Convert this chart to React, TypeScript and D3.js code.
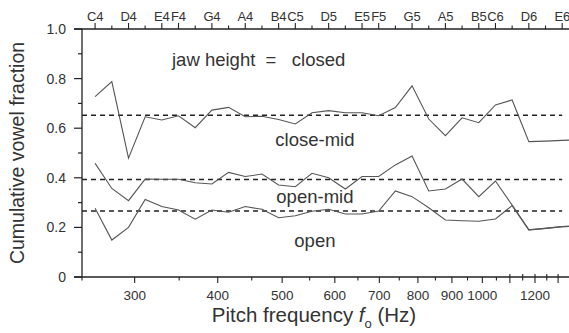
import React from 'react';
import * as d3 from 'd3';

// semitone pitches C4..F6 (Hz)
const pitchHz = [
  261.6, 277.2, 293.7, 311.1, 329.6, 349.2, 370.0, 392.0, 415.3, 440.0,
  466.2, 493.9, 523.3, 554.4, 587.3, 622.3, 659.3, 698.5, 740.0, 784.0,
  830.6, 880.0, 932.3, 987.8, 1046.5, 1108.7, 1174.7, 1244.5, 1318.5, 1396.9,
];

// cumulative fraction at each pitch (upper edge of each band)
const closedEdge = [
  0.727, 0.788, 0.479, 0.646, 0.633, 0.650, 0.602, 0.673, 0.684, 0.646,
  0.648, 0.635, 0.617, 0.662, 0.671, 0.662, 0.662, 0.650, 0.683, 0.771,
  0.637, 0.570, 0.642, 0.622, 0.694, 0.714, 0.546, 0.548, 0.551, 0.553,
];
const closeMidEdge = [
  0.458, 0.357, 0.308, 0.395, 0.394, 0.394, 0.380, 0.375, 0.422, 0.405,
  0.415, 0.371, 0.364, 0.418, 0.400, 0.355, 0.405, 0.405, 0.452, 0.488,
  0.347, 0.355, 0.395, 0.324, 0.387, 0.290, 0.190, 0.196, 0.203, 0.206,
];
const openMidEdge = [
  0.277, 0.149, 0.200, 0.313, 0.284, 0.270, 0.233, 0.270, 0.261, 0.284,
  0.273, 0.239, 0.247, 0.265, 0.273, 0.254, 0.254, 0.266, 0.347, 0.324,
  0.279, 0.230, 0.227, 0.225, 0.234, 0.288, 0.190, 0.196, 0.203, 0.206,
];

// average levels (dashed)
const meanLevels = [0.652, 0.393, 0.266];

// top axis: chromatic notes, labelled naturals
const noteHz = pitchHz.slice(0, 29);
const noteNames = [
  'C4', '', 'D4', '', 'E4', 'F4', '', 'G4', '', 'A4', '', 'B4',
  'C5', '', 'D5', '', 'E5', 'F5', '', 'G5', '', 'A5', '', 'B5',
  'C6', '', 'D6', '', 'E6',
];

const hzTicks = [250, 300, 350, 400, 450, 500, 550, 600, 650, 700, 750, 800, 850, 900, 950,
  1000, 1050, 1100, 1150, 1200, 1250, 1300];
const hzLabels = [300, 400, 500, 600, 700, 800, 900, 1000, 1200];
const yTicks = [0, 0.1, 0.2, 0.3, 0.4, 0.5, 0.6, 0.7, 0.8, 0.9, 1.0];

const bandLabels = [
  { text: 'close-mid', v: 0.53 },
  { text: 'open-mid', v: 0.3 },
  { text: 'open', v: 0.122 },
];

const W = 569;
const H = 333;
const margin = { top: 29, right: 0, bottom: 56, left: 82 };
const font = "'Liberation Sans', Arial, Helvetica, sans-serif";
const ink = '#333';

export default function App() {
  const x = d3.scaleLog().domain([250, 1350]).range([margin.left, W - margin.right]);
  const y = d3.scaleLinear().domain([0, 1]).range([H - margin.bottom, margin.top]);
  const x0 = margin.left;
  const x1 = W - margin.right;
  const yb = y(0);
  const yt = y(1);

  const line = d3.line<number>()
    .x((_, i) => x(pitchHz[i]))
    .y(d => y(d));

  const series = [closedEdge, closeMidEdge, openMidEdge];

  return (
    <svg width={W} height={H} style={{ position: 'absolute', left: 0, top: 0, background: '#fff' }}
      fontFamily={font}>
      <defs>
        <clipPath id="plot">
          <rect x={x0} y={0} width={x1 - x0} height={H} />
        </clipPath>
      </defs>

      {/* dashed mean levels */}
      {meanLevels.map((m, i) => (
        <line key={'m' + i} x1={x0} x2={x(noteHz[noteHz.length - 1])} y1={y(m)} y2={y(m)}
          stroke="#222" strokeWidth={1.4} strokeDasharray="5,4" />
      ))}

      {/* band edges */}
      <g clipPath="url(#plot)">
        {series.map((s, i) => (
          <path key={'s' + i} d={line(s) || ''} fill="none" stroke="#555" strokeWidth={1.1} />
        ))}
      </g>

      {/* axes frame */}
      <line x1={x0 - 8} x2={x1} y1={yt} y2={yt} stroke="#222" strokeWidth={1.3} />
      <line x1={x0 - 8} x2={x1} y1={yb} y2={yb} stroke="#222" strokeWidth={1.3} />
      <line x1={x0} x2={x0} y1={yt} y2={yb} stroke="#222" strokeWidth={1.3} />

      {/* y ticks */}
      {yTicks.map((t, i) => {
        const major = i % 2 === 0;
        return (
          <g key={'y' + i}>
            <line x1={x0 - (major ? 8 : 4)} x2={x0} y1={y(t)} y2={y(t)} stroke="#222" strokeWidth={1.2} />
            {major && (
              <text x={x0 - 16} y={y(t)} dy="0.36em" textAnchor="end" fontSize={14} fill={ink}>
                {t === 0 ? '0' : t.toFixed(1)}
              </text>
            )}
          </g>
        );
      })}

      {/* bottom ticks */}
      {hzTicks.map((t, i) => {
        const major = t % 100 === 0;
        const up = t > 1050 ? 3 : 0;
        return (
          <line key={'b' + i} x1={x(t)} x2={x(t)} y1={yb - up} y2={yb + (major ? 6 : 3.5)}
            stroke="#222" strokeWidth={1.1} />
        );
      })}
      {hzLabels.map(t => (
        <text key={'bl' + t} x={x(t)} y={yb + 23} textAnchor="middle" fontSize={13.5} fill={ink}>
          {t}
        </text>
      ))}

      {/* top note ticks */}
      {noteHz.map((f, i) => (
        <line key={'n' + i} x1={x(f)} x2={x(f)} y1={yt} y2={yt - (noteNames[i] ? 6 : 3.5)}
          stroke="#222" strokeWidth={1.1} />
      ))}
      {noteNames.map((n, i) => n && (
        <text key={'nl' + i} x={x(noteHz[i])} y={yt - 8} textAnchor="middle" fontSize={13}
          letterSpacing={-0.2} fill={ink}>
          {n}
        </text>
      ))}

      {/* annotations */}
      <text x={172} y={y(0.85)} fontSize={18.5} fill={ink} xmlSpace="preserve">
        {'jaw height  =   closed'}
      </text>
      {bandLabels.map(b => (
        <text key={b.text} x={x(560)} y={y(b.v)} textAnchor="middle" fontSize={18.5} fill={ink}>
          {b.text}
        </text>
      ))}

      {/* axis titles */}
      <text x={314} y={H - 11} textAnchor="middle" fontSize={20.5} fill={ink}>
        Pitch frequency <tspan fontStyle="italic">f</tspan>
        <tspan fontSize={13} dy={6}>o</tspan>
        <tspan dy={-6}> (Hz)</tspan>
      </text>
      <text transform={`translate(24,${(yt + yb) / 2}) rotate(-90)`} textAnchor="middle" fontSize={19.5} fill={ink}>
        Cumulative vowel fraction
      </text>
    </svg>
  );
}
